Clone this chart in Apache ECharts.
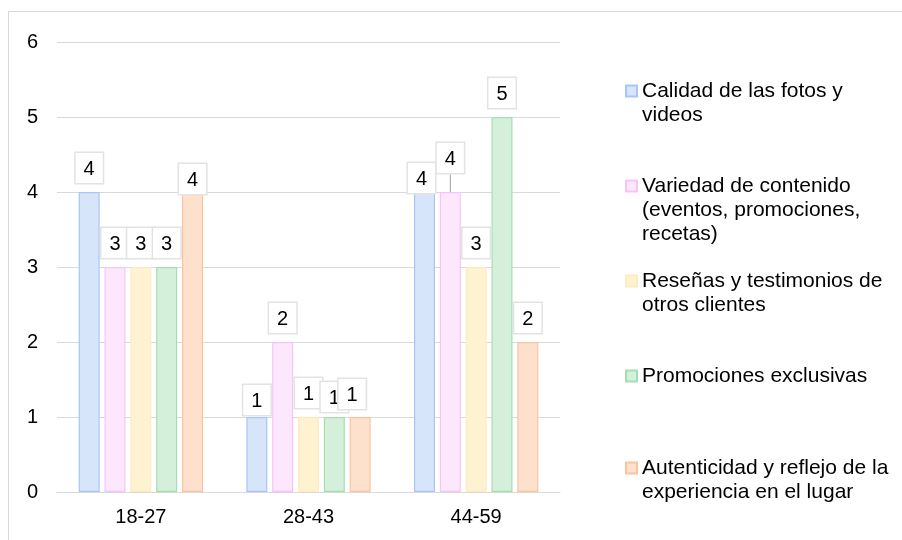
<!DOCTYPE html>
<html>
<head>
<meta charset="utf-8">
<script src="https://cdn.jsdelivr.net/npm/echarts@6/dist/echarts.min.js"></script>
<style>
  html, body { margin: 0; padding: 0; background: #fff; }
  #chart { width: 902px; height: 540px; }
</style>
</head>
<body>
<div id="chart"></div>
<script>
// Age groups on the category axis
const categories = ['18-27', '28-43', '44-59'];

// Series names and counts per age group
const seriesNames = [
  'Calidad de las fotos y\nvideos',
  'Variedad de contenido\n(eventos, promociones,\nrecetas)',
  'Reseñas y testimonios de\notros clientes',
  'Promociones exclusivas',
  'Autenticidad y reflejo de la\nexperiencia en el lugar'
];
const calidadFotos = [4, 1, 4];
const variedadContenido = [3, 2, 4];
const resenasTestimonios = [3, 1, 3];
const promocionesExclusivas = [3, 1, 5];
const autenticidad = [4, 1, 2];

const yTicks = [0, 1, 2, 3, 4, 5, 6];

const seriesValues = [calidadFotos, variedadContenido, resenasTestimonios, promocionesExclusivas, autenticidad];

// fill / outline per series
const fills = ['#d7e5fb', '#fde7fd', '#fef2d0', '#d5f0da', '#fde1cc'];
const borders = ['#a9c5f5', '#f8c4f8', '#fdecc0', '#a6deb1', '#fbc49f'];

// nudges for value labels that sit off their default spot: "series-category" -> [dx, dy]
const labelNudges = {
  '0-1': [0, 7], '0-2': [-3, 10],
  '1-2': [0, -10],
  '3-1': [0, 4],
  '4-0': [0, 11], '4-1': [-8, 1]
};
// labels that keep a leader line back to their bar
const leaderLines = { '1-2': true };

// legend first-line centres
const legendLineY = [91, 186, 281, 376, 468];
const LINE_H = 24;

const FONT = '"Liberation Sans", Arial, sans-serif';

const chart = echarts.init(document.getElementById('chart'));

const series = seriesValues.map((vals, i) => ({
  name: seriesNames[i],
  type: 'bar',
  data: vals.map((v, j) => ({
    value: v,
    labelLine: { show: !!leaderLines[i + '-' + j] }
  })),
  barWidth: 21,
  barGap: '23%',
  itemStyle: { color: fills[i], borderColor: borders[i], borderWidth: 1.2 },
  label: {
    show: true,
    position: 'top',
    distance: 9,
    fontFamily: FONT,
    fontSize: 20,
    color: '#000',
    backgroundColor: '#fff',
    borderColor: '#e3e3e3',
    borderWidth: 1.5,
    padding: [6, 8, 4, 8],
    lineHeight: 20
  },
  labelLine: { show: false, lineStyle: { color: '#a0a0a0', width: 1 } },
  labelLayout: function (p) {
    const n = labelNudges[p.seriesIndex + '-' + p.dataIndex];
    return n ? { dx: n[0], dy: n[1] } : {};
  }
}));

// one legend per entry so each entry can sit on its own row
const legends = seriesNames.map((name, i) => {
  const lines = name.split('\n').length;
  const pad = new Array(lines - 1).fill('').join('\n');
  return {
    data: [name],
    left: 625,
    top: legendLineY[i] - (2 * lines - 1) * LINE_H / 2,
    orient: 'vertical',
    padding: 0,
    itemWidth: 11,
    itemHeight: 11,
    icon: 'rect',
    selectedMode: false,
    formatter: (t) => (lines > 1 ? pad + '\n' : '') + t,
    textStyle: { fontFamily: FONT, fontSize: 21, color: '#000', lineHeight: LINE_H }
  };
});

chart.setOption({
  animation: false,
  backgroundColor: '#fff',
  textStyle: { fontFamily: FONT },
  graphic: [{
    type: 'rect',
    shape: { x: 8.5, y: 11.5, width: 1000, height: 1000 },
    style: { fill: 'none', stroke: '#d9d9d9', lineWidth: 1 },
    silent: true, z: -10
  }],
  grid: { left: 57, right: 342, top: 42, bottom: 48, containLabel: false },
  legend: legends,
  xAxis: {
    type: 'category',
    data: categories,
    axisLine: { lineStyle: { color: '#d9d9d9', width: 1 } },
    axisTick: { show: false },
    axisLabel: { fontFamily: FONT, fontSize: 20, color: '#000', margin: 15 }
  },
  yAxis: {
    type: 'value',
    min: yTicks[0],
    max: yTicks[yTicks.length - 1],
    interval: 1,
    axisLine: { show: false },
    axisTick: { show: false },
    splitLine: { lineStyle: { color: '#d9d9d9', width: 1 } },
    axisLabel: { fontFamily: FONT, fontSize: 20, color: '#000', margin: 19 }
  },
  series: series
});
</script>
</body>
</html>
